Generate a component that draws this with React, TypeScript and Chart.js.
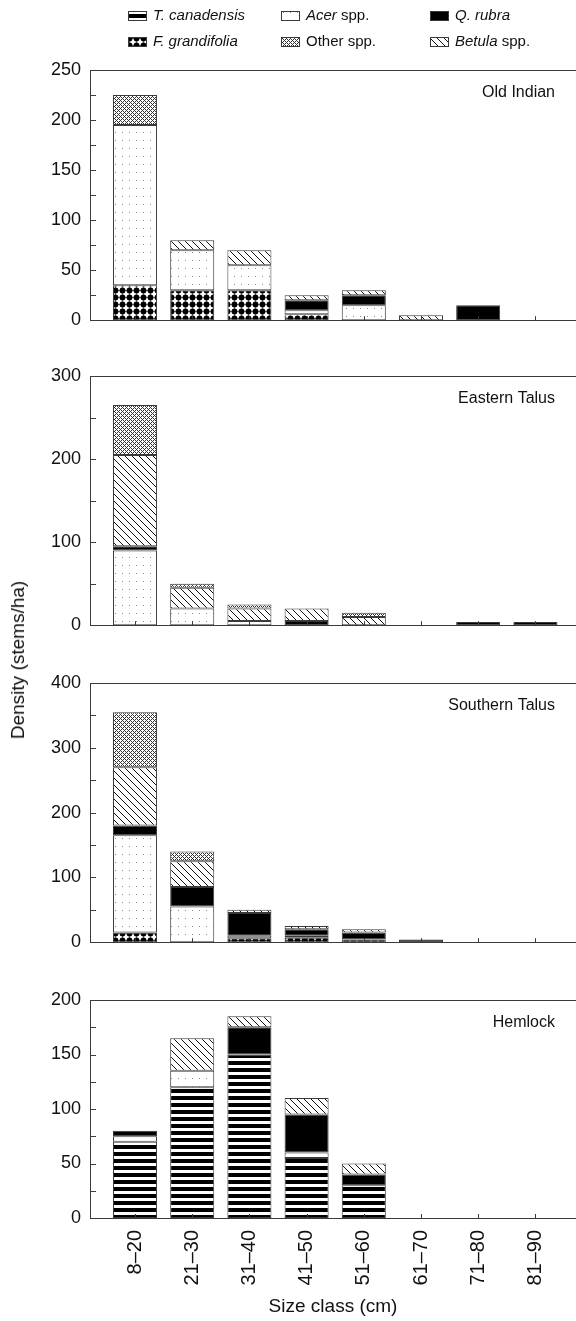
import React, { useEffect, useRef } from "react";
import { Chart, registerables } from "chart.js";

Chart.register(...registerables);

if (typeof document !== "undefined") {
  document.body.style.margin = "0";
}

const FONT = "'Liberation Sans', Arial, Helvetica, sans-serif";

// ---- Data ----
const categories = ["8–20", "21–30", "31–40", "41–50", "51–60", "61–70", "71–80", "81–90"];
const speciesNames = ["T. canadensis", "F. grandifolia", "Acer spp.", "Q. rubra", "Betula spp.", "Other spp."];

// Old Indian
const oldIndianTsuga = [0, 0, 0, 0, 0, 0, 0, 0];
const oldIndianFagus = [35, 30, 30, 6, 0, 0, 0, 0];
const oldIndianAcer = [160, 40, 25, 4, 15, 0, 0, 0];
const oldIndianQuercus = [0, 0, 0, 10, 10, 0, 15, 0];
const oldIndianBetula = [0, 10, 15, 5, 5, 5, 0, 0];
const oldIndianOther = [30, 0, 0, 0, 0, 0, 0, 0];

// Eastern Talus
const easternTsuga = [0, 0, 0, 0, 0, 0, 0, 0];
const easternFagus = [0, 0, 0, 0, 0, 0, 0, 0];
const easternAcer = [90, 20, 5, 0, 0, 0, 0, 0];
const easternQuercus = [5, 0, 0, 5, 0, 0, 4, 4];
const easternBetula = [110, 25, 15, 15, 10, 0, 0, 0];
const easternOther = [60, 5, 5, 0, 5, 0, 0, 0];

// Southern Talus
const southernTsuga = [0, 0, 0, 0, 0, 0, 0, 0];
const southernFagus = [15, 0, 6, 7, 4, 0, 0, 0];
const southernAcer = [150, 55, 4, 3, 0, 0, 0, 0];
const southernQuercus = [15, 30, 35, 10, 11, 4, 0, 0];
const southernBetula = [90, 40, 5, 5, 5, 0, 0, 0];
const southernOther = [85, 15, 0, 0, 0, 0, 0, 0];

// Hemlock
const hemlockTsuga = [70, 120, 150, 55, 30, 0, 0, 0];
const hemlockFagus = [0, 0, 0, 0, 0, 0, 0, 0];
const hemlockAcer = [5, 15, 0, 5, 0, 0, 0, 0];
const hemlockQuercus = [5, 0, 25, 35, 10, 0, 0, 0];
const hemlockBetula = [0, 30, 10, 15, 10, 0, 0, 0];
const hemlockOther = [0, 0, 0, 0, 0, 0, 0, 0];

const panelTitles = ["Old Indian", "Eastern Talus", "Southern Talus", "Hemlock"];
const yMaxes = [250, 300, 400, 200];
const yMajorSteps = [50, 100, 100, 50];
const yMinorSteps = [25, 50, 50, 25];

const panelSeries = [
  [oldIndianTsuga, oldIndianFagus, oldIndianAcer, oldIndianQuercus, oldIndianBetula, oldIndianOther],
  [easternTsuga, easternFagus, easternAcer, easternQuercus, easternBetula, easternOther],
  [southernTsuga, southernFagus, southernAcer, southernQuercus, southernBetula, southernOther],
  [hemlockTsuga, hemlockFagus, hemlockAcer, hemlockQuercus, hemlockBetula, hemlockOther],
];

// ---- Layout (pixels) ----
const layouts = [
  { top: 0, height: 340, areaTop: 70, areaBottom: 327 },
  { top: 345, height: 300, areaTop: 376, areaBottom: 633 },
  { top: 650, height: 312, areaTop: 683, areaBottom: 951 },
  { top: 970, height: 351, areaTop: 1000, areaBottom: 1218 },
];

const LINE = "#3a3a3a";

// ---- Patterns ----
function tile(w: number, h: number, draw: (c: CanvasRenderingContext2D) => void) {
  const cv = document.createElement("canvas");
  cv.width = w;
  cv.height = h;
  const c = cv.getContext("2d")!;
  c.fillStyle = "#fff";
  c.fillRect(0, 0, w, h);
  draw(c);
  return cv;
}

function makePatterns(ctx: CanvasRenderingContext2D) {
  const stripes = tile(8, 7, (c) => {
    c.fillStyle = "#000";
    c.fillRect(0, 0, 8, 4);
  });
  const dots = tile(7, 7, (c) => {
    c.fillStyle = "#000";
    c.beginPath();
    c.arc(3.5, 3.5, 2.9, 0, Math.PI * 2);
    c.fill();
    c.beginPath();
    c.moveTo(3.5, 0.2);
    c.lineTo(6.8, 3.5);
    c.lineTo(3.5, 6.8);
    c.lineTo(0.2, 3.5);
    c.closePath();
    c.fill();
  });
  const sparse = tile(7, 8, (c) => {
    c.fillStyle = "#8a8a8a";
    c.fillRect(3, 4, 1, 1);
  });
  const hatch = tile(4, 4, (c) => {
    c.fillStyle = "#333";
    for (let x = 0; x < 4; x++) {
      for (let y = 0; y < 4; y++) {
        if ((x + y) % 4 === 0 || (x - y + 4) % 4 === 0) c.fillRect(x, y, 1, 1);
      }
    }
  });
  const diag = tile(7, 7, (c) => {
    c.fillStyle = "#111";
    for (let y = 0; y < 7; y++) c.fillRect(y, y, 1, 1);
  });
  // order: T. canadensis, F. grandifolia, Acer, Q. rubra, Betula, Other
  return [
    ctx.createPattern(stripes, "repeat")!,
    ctx.createPattern(dots, "repeat")!,
    ctx.createPattern(sparse, "repeat")!,
    "#000",
    ctx.createPattern(diag, "repeat")!,
    ctx.createPattern(hatch, "repeat")!,
  ] as (CanvasPattern | string)[];
}

// ---- Plugin: frame, inward ticks, title, legend ----
const framePlugin = {
  id: "frame",
  afterDraw(chart: any, _args: any, opts: any) {
    const { ctx, chartArea: a, scales } = chart;
    const xs = scales.x;
    const ys = scales.y;
    ctx.save();
    ctx.strokeStyle = LINE;
    ctx.lineWidth = 1;
    ctx.beginPath();
    ctx.moveTo(a.left, Math.round(a.top) + 0.5);
    ctx.lineTo(a.right, Math.round(a.top) + 0.5);
    for (let v = opts.yMinor; v < opts.yMax; v += opts.yMinor) {
      const py = Math.round(ys.getPixelForValue(v)) + 0.5;
      ctx.moveTo(a.left, py);
      ctx.lineTo(a.left + 6, py);
    }
    for (let i = 0; i < categories.length; i++) {
      const px = Math.round(xs.getPixelForValue(i)) + 0.5;
      ctx.moveTo(px, a.bottom);
      ctx.lineTo(px, a.bottom - 4);
    }
    ctx.stroke();

    ctx.fillStyle = "#111";
    ctx.font = `16px ${FONT}`;
    ctx.textAlign = "right";
    ctx.textBaseline = "middle";
    ctx.fillText(opts.title, 555, a.top + 23);

    if (opts.legend) {
      const pats = opts.patterns;
      const cols = [128, 281, 430];
      const rows = [16, 42];
      const items: [number, number, number, string, string][] = [
        [0, 0, 0, "T. canadensis", ""],
        [1, 0, 2, "Acer", " spp."],
        [2, 0, 3, "Q. rubra", ""],
        [0, 1, 1, "F. grandifolia", ""],
        [1, 1, 5, "", "Other spp."],
        [2, 1, 4, "Betula", " spp."],
      ];
      ctx.textAlign = "left";
      for (const [col, row, si, ital, norm] of items) {
        const ix = cols[col];
        const iy = rows[row];
        ctx.fillStyle = pats[si];
        ctx.fillRect(ix, iy - 5, 19, 10);
        ctx.strokeStyle = LINE;
        ctx.strokeRect(ix + 0.5, iy - 4.5, 18, 9);
        let tx = ix + 25;
        ctx.fillStyle = "#111";
        if (ital) {
          ctx.font = `italic 15px ${FONT}`;
          ctx.fillText(ital, tx, iy);
          tx += ctx.measureText(ital).width;
        }
        if (norm) {
          ctx.font = `15px ${FONT}`;
          ctx.fillText(norm, tx, iy);
        }
      }
    }
    ctx.restore();
  },
};

function Panel({ index }: { index: number }) {
  const ref = useRef<HTMLCanvasElement>(null);
  const L = layouts[index];
  const isLast = index === 3;
  const isFirst = index === 0;

  useEffect(() => {
    const canvas = ref.current!;
    const ctx = canvas.getContext("2d")!;
    const patterns = makePatterns(ctx);
    const series = panelSeries[index];
    const datasets = series.map((vals, si) => ({
      label: speciesNames[si],
      data: vals.map((v, i) => ({ x: i, y: v === 0 ? null : v })),
      backgroundColor: patterns[si],
      borderColor: LINE,
      borderWidth: 1,
      borderSkipped: false as const,
      barPercentage: 0.77,
      categoryPercentage: 1,
    }));

    const xAxisHeight = L.height - L.areaBottom + L.top;

    const chart = new Chart(canvas, {
      type: "bar",
      data: { datasets: datasets as any },
      plugins: [framePlugin as any],
      options: {
        animation: false,
        responsive: false,
        devicePixelRatio: 1,
        layout: { padding: { top: L.areaTop - L.top, left: 0, right: 0, bottom: 0 } },
        plugins: {
          legend: { display: false },
          tooltip: { enabled: false },
          frame: {
            title: panelTitles[index],
            yMax: yMaxes[index],
            yMinor: yMinorSteps[index],
            legend: isFirst,
            patterns,
          },
        } as any,
        scales: {
          x: {
            type: "linear",
            stacked: true,
            offset: false,
            min: -0.787,
            max: 7.71,
            grid: { display: false, drawTicks: false, offset: false },
            border: { display: true, color: LINE, width: 1 },
            afterBuildTicks: (s: any) => {
              s.ticks = categories.map((_, i) => ({ value: i }));
            },
            afterFit: (s: any) => {
              s.height = xAxisHeight;
            },
            ticks: {
              display: isLast,
              autoSkip: false,
              minRotation: 90,
              maxRotation: 90,
              padding: 12,
              color: "#111",
              font: { family: FONT, size: 20 },
              callback: (v: any) => categories[Math.round(Number(v))] ?? "",
            },
            title: {
              display: isLast,
              text: "Size class (cm)",
              color: "#111",
              font: { family: FONT, size: 19 },
              padding: { top: 0, bottom: 3 },
            },
          },
          y: {
            type: "linear",
            stacked: true,
            min: 0,
            max: yMaxes[index],
            grid: { display: false, drawTicks: false },
            border: { display: true, color: LINE, width: 1 },
            afterFit: (s: any) => {
              s.width = 90;
            },
            ticks: {
              stepSize: yMajorSteps[index],
              padding: 9,
              color: "#111",
              font: { family: FONT, size: 18 },
            },
          },
        },
      } as any,
    });
    return () => chart.destroy();
  }, [index]);

  return (
    <canvas
      ref={ref}
      width={576}
      height={L.height}
      style={{ position: "absolute", left: 0, top: L.top, width: 576, height: L.height }}
    />
  );
}

export default function App() {
  return (
    <div style={{ position: "relative", width: 576, height: 1321, background: "#fff", overflow: "hidden" }}>
      {layouts.map((_, i) => (
        <Panel key={i} index={i} />
      ))}
      <div
        style={{
          position: "absolute",
          left: 18,
          top: 660,
          transform: "translate(-50%, -50%) rotate(-90deg)",
          fontFamily: FONT,
          fontSize: 19,
          color: "#111",
          whiteSpace: "nowrap",
        }}
      >
        Density (stems/ha)
      </div>
    </div>
  );
}
